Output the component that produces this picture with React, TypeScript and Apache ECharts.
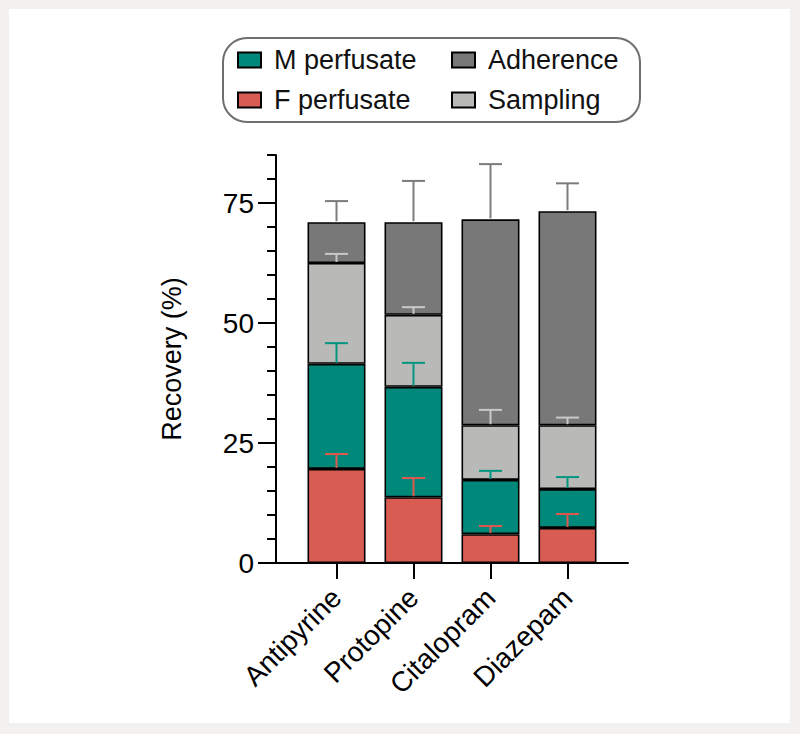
import React, { useEffect, useRef } from "react";
import * as echarts from "echarts";

const categories = ["Antipyrine", "Protopine", "Citalopram", "Diazepam"];
const seriesNames = ["F perfusate", "M perfusate", "Sampling", "Adherence"];
const fPerfusate = [19.6, 13.7, 6.0, 7.3];
const mPerfusate = [21.9, 23.0, 11.3, 8.1];
const sampling = [21.0, 15.0, 11.4, 13.3];
const adherence = [8.5, 19.3, 42.9, 44.6];
const fErr = [3.1, 4.0, 1.7, 2.9];
const mErr = [4.3, 5.0, 1.9, 2.5];
const samplingErr = [1.9, 1.6, 3.2, 1.6];
const adherenceErr = [4.4, 8.6, 11.5, 5.8];
const yTickLabels = [0, 25, 50, 75];
const yMax = 85;

const barColors = ["#d95c53", "#00897a", "#b9b9b7", "#787878"];
const errColors = ["#e0584f", "#00967f", "#c9c9c7", "#7c7c7c"];
const FONT = "'Liberation Sans', Arial, Helvetica, sans-serif";

export default function App() {
  const ref = useRef<HTMLDivElement>(null);
  useEffect(() => {
    if (!ref.current) return;
    const chart = echarts.init(ref.current, null, { renderer: "svg" });
    const values = [fPerfusate, mPerfusate, sampling, adherence];
    const errs = [fErr, mErr, samplingErr, adherenceErr];
    const errData: number[][] = [];
    categories.forEach((_, i) => {
      let top = 0;
      values.forEach((arr, s) => {
        top += arr[i];
        errData.push([i, top, errs[s][i], s]);
      });
    });
    const minorTicks: number[] = [];
    for (let v = 0; v <= yMax; v += 5) minorTicks.push(v);

    const barSeries = values.map((arr, s) => ({
      type: "bar",
      name: seriesNames[s],
      stack: "total",
      xAxisIndex: 0,
      yAxisIndex: 0,
      barWidth: 58,
      data: arr,
      itemStyle: { color: barColors[s], borderColor: "#000", borderWidth: 1.6 },
      z: 2,
    }));

    const legendText = { fontSize: 27, color: "#111", fontFamily: FONT, lineHeight: 28, padding: [0, 0, 0, 8] };

    const option: any = {
      animation: false,
      textStyle: { fontFamily: FONT },
      grid: [
        { left: 298, width: 308, top: 155, bottom: 171 },
        { left: 276, right: 172, top: 155, bottom: 171 },
      ],
      legend: [
        {
          data: ["M perfusate", "F perfusate"],
          orient: "vertical",
          left: 237,
          top: 46,
          padding: 0,
          itemGap: 12,
          itemWidth: 23,
          itemHeight: 15,
          icon: "rect",
          selectedMode: false,
          textStyle: legendText,
        },
        {
          data: ["Adherence", "Sampling"],
          orient: "vertical",
          left: 451,
          top: 46,
          padding: 0,
          itemGap: 12,
          itemWidth: 23,
          itemHeight: 15,
          icon: "rect",
          selectedMode: false,
          textStyle: legendText,
        },
      ],
      graphic: [
        {
          type: "rect",
          shape: { x: 223, y: 38, width: 417, height: 84, r: 24 },
          style: { fill: "none", stroke: "#6f6f6f", lineWidth: 2 },
          silent: true,
        },
      ],
      xAxis: [
        {
          type: "category",
          gridIndex: 0,
          data: categories,
          axisLine: { show: false },
          axisTick: { show: true, alignWithLabel: true, length: 16, lineStyle: { color: "#000", width: 2 } },
          axisLabel: { rotate: 45, fontSize: 28, color: "#000", margin: 30, fontFamily: FONT },
          splitLine: { show: false },
        },
        {
          type: "value",
          gridIndex: 1,
          min: 0,
          max: 1,
          axisLine: { show: true, lineStyle: { color: "#000", width: 2 } },
          axisTick: { show: false },
          axisLabel: { show: false },
          splitLine: { show: false },
        },
      ],
      yAxis: [
        {
          type: "value",
          gridIndex: 0,
          min: 0,
          max: yMax,
          show: false,
          splitLine: { show: false },
        },
        {
          type: "value",
          gridIndex: 1,
          position: "left",
          min: 0,
          max: yMax,
          interval: 5,
          name: "Recovery (%)",
          nameLocation: "middle",
          nameRotate: 90,
          nameGap: 91,
          nameTextStyle: { fontSize: 27, color: "#000", fontFamily: FONT },
          axisLine: { show: true, lineStyle: { color: "#000", width: 2 } },
          axisTick: { show: true, length: 9, customValues: minorTicks, lineStyle: { color: "#000", width: 2 } },
          axisLabel: { customValues: yTickLabels, fontSize: 28, color: "#000", margin: 22, fontFamily: FONT },
          splitLine: { show: false },
        },
        {
          type: "value",
          gridIndex: 1,
          position: "left",
          offset: 0,
          min: 0,
          max: yMax,
          interval: 5,
          axisLine: { show: false },
          axisTick: { show: true, length: 18, customValues: yTickLabels, lineStyle: { color: "#000", width: 2 } },
          axisLabel: { show: false },
          splitLine: { show: false },
        },
      ],
      series: [
        ...barSeries,
        {
          type: "custom",
          name: "errors",
          xAxisIndex: 0,
          yAxisIndex: 0,
          z: 10,
          data: errData,
          renderItem: (params: any, api: any) => {
            const x = api.value(0);
            const top = api.value(1);
            const err = api.value(2);
            const s = api.value(3);
            const p0 = api.coord([x, top]);
            const p1 = api.coord([x, top + err]);
            const half = 11.5;
            const style = { stroke: errColors[s], lineWidth: 2 };
            return {
              type: "group",
              children: [
                { type: "line", shape: { x1: p0[0], y1: p0[1] - 1, x2: p1[0], y2: p1[1] }, style },
                { type: "line", shape: { x1: p1[0] - half, y1: p1[1], x2: p1[0] + half, y2: p1[1] }, style },
              ],
            };
          },
        },
      ],
    };
    chart.setOption(option);
    return () => chart.dispose();
  }, []);

  return (
    <div style={{ position: "fixed", left: 0, top: 0, width: 800, height: 734, background: "#f2f1ef" }}>
      <div style={{ position: "absolute", left: 9, top: 9, width: 781, height: 714, background: "#ffffff" }} />
      <div ref={ref} style={{ position: "absolute", left: 0, top: 0, width: 800, height: 734 }} />
    </div>
  );
}
